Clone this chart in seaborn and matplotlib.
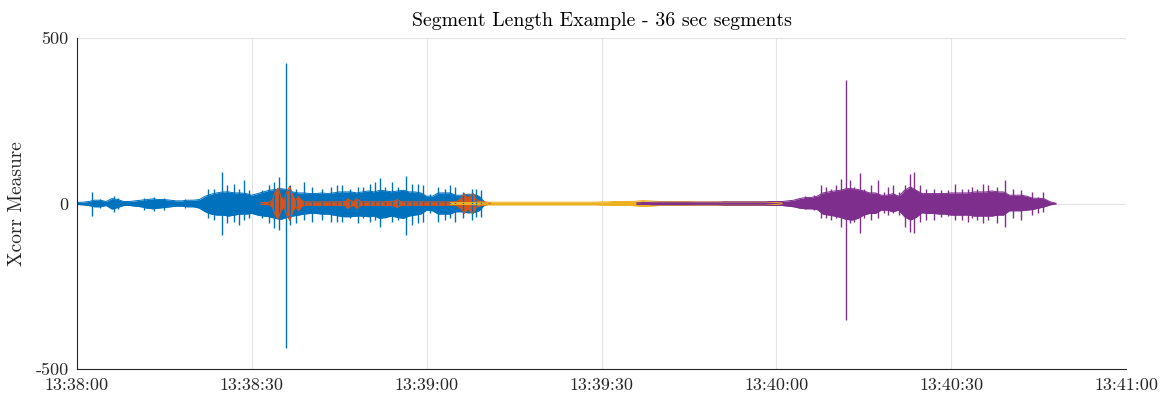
import numpy as np
import pandas as pd
import matplotlib
matplotlib.use("Agg")
import matplotlib.pyplot as plt
import seaborn as sns

# Estilo
sns.set_style("white")
plt.rcParams['font.family'] = 'serif'
plt.rcParams['font.serif'] = ['cmr10']
plt.rcParams['axes.unicode_minus'] = False
plt.rcParams['axes.formatter.use_mathtext'] = True

# MATLAB default colour order
cores = ['#0072BD', '#D95319', '#EDB120', '#7E2F8E']

# --- segment 1 (blue): core envelope every 1 s from 13:38:00 ---
azul_inicio, azul_passo = 0, 1.0
azul_sup = [3, 4, 6, 10, 10, 6, 15, 12, 6, 6,
            8, 10, 12, 14, 12, 12, 10, 8, 8, 10,
            10, 12, 22, 28, 32, 35, 35, 32, 32, 30,
            25, 30, 35, 40, 42, 45, 42, 35, 32, 32,
            30, 30, 32, 30, 32, 35, 35, 35, 32, 35,
            38, 35, 40, 38, 35, 38, 40, 35, 35, 32,
            22, 22, 32, 32, 32, 25, 25, 28, 28, 22, 3]
azul_inf = [-3, -4, -6, -10, -10, -6, -17, -12, -6, -6,
            -8, -10, -14, -16, -14, -12, -10, -8, -8, -10,
            -10, -14, -25, -32, -35, -35, -38, -35, -32, -32,
            -30, -35, -38, -40, -45, -48, -42, -38, -35, -32,
            -30, -30, -32, -32, -35, -38, -40, -40, -38, -38,
            -40, -38, -45, -42, -38, -42, -45, -38, -35, -32,
            -20, -22, -32, -32, -32, -25, -25, -28, -28, -22, -3]
# single peaks sticking out of the core
azul_picos_t = [2.6, 4.0, 6.3, 7.0, 11.5, 13.2, 15.0, 18.5,
                22.4, 23.5, 24.9, 25.8, 26.9, 27.8, 28.6, 29.5, 30.6, 31.8,
                32.9, 33.8, 34.6, 35.85, 36.6, 37.5, 38.9, 40.4, 42.1, 43.5,
                44.6, 45.5, 46.8, 48.2, 49.1, 50.2, 51.1, 52.0, 52.8, 54.0,
                55.1, 56.5, 57.4, 58.5, 59.4, 60.6, 62.0, 63.1, 64.0, 64.8,
                66.2, 67.7, 68.5, 69.4]
azul_picos_sup = [35, 14, 22, 18, 16, 20, 18, 14,
                  45, 45, 95, 55, 60, 45, 70, 40, 25, 40,
                  55, 65, 80, 423, 55, 45, 65, 50, 45, 50,
                  55, 55, 45, 50, 50, 60, 65, 78, 50, 65,
                  50, 82, 60, 60, 55, 30, 50, 45, 55, 50,
                  35, 45, 45, 40]
azul_picos_inf = [-38, -15, -25, -16, -20, -22, -20, -15,
                  -45, -50, -95, -60, -55, -65, -50, -45, -30, -45,
                  -60, -75, -80, -438, -65, -60, -50, -55, -50, -55,
                  -55, -55, -45, -60, -45, -55, -50, -70, -45, -55,
                  -50, -95, -65, -60, -55, -30, -55, -50, -45, -55,
                  -45, -50, -40, -42]

# --- segment 2 (orange): symmetric amplitude every 0.5 s ---
laranja_inicio, laranja_passo = 31.5, 0.5
laranja_amp = [2, 3, 3, 4, 10, 35, 47, 20, 10, 35,
               52, 25, 8, 22, 10, 5, 5, 5, 5, 5,
               5, 5, 5, 5, 5, 5, 5, 5, 5, 6,
               15, 8, 6, 15, 8, 5, 5, 5, 5, 5,
               5, 5, 5, 6, 5, 5, 8, 12, 6, 5,
               5, 5, 5, 5, 5, 5, 5, 5, 5, 5,
               5, 5, 5, 5, 5, 5, 5, 6, 10, 18,
               30, 15, 25, 30, 12, 8, 6, 5, 3, 1]

# --- segment 3 (yellow): symmetric amplitude every 1 s ---
amarelo_inicio, amarelo_passo = 64, 1.0
amarelo_amp = [3, 3, 3, 3, 3, 4,
               4, 4, 4, 4, 4, 4, 4, 4, 4, 4,
               4, 4, 4, 4, 4, 4, 4, 4, 4, 4,
               5, 5, 6, 6, 6, 6, 7, 9, 8, 7,
               6, 6, 6, 6, 6, 6, 5, 5, 5, 5,
               5, 5, 5, 5, 5, 5, 5, 5, 5, 4, 3, 1]

# --- segment 4 (purple): core envelope every 1 s ---
roxo_inicio, roxo_passo = 96, 1.0
roxo_sup = [2, 3, 3, 4, 4, 4, 4, 4, 4, 4,
            4, 4, 4, 4, 4, 5, 5, 5, 5, 5,
            5, 5, 5, 6, 6, 6, 8,
            10, 15, 18, 18, 22,
            32, 35, 38, 40, 45, 45, 42, 38, 32, 32,
            25, 25, 30, 22, 40, 50, 40, 30, 30, 30,
            30, 30, 32, 32, 32, 32, 35, 35, 35, 38,
            35, 35, 25, 25, 25, 22, 16, 16, 14, 5, 1]
roxo_inf = [-2, -3, -3, -4, -4, -4, -4, -4, -4, -4,
            -4, -4, -4, -4, -4, -5, -5, -5, -5, -5,
            -5, -5, -5, -6, -6, -6, -8,
            -10, -14, -16, -16, -18,
            -32, -35, -38, -42, -48, -50, -45, -35, -30, -30,
            -20, -20, -25, -20, -40, -50, -42, -28, -30, -30,
            -32, -32, -35, -35, -35, -35, -38, -38, -38, -38,
            -35, -35, -22, -22, -22, -20, -18, -14, -10, -4, -1]
roxo_picos_t = [123.5, 125.0, 126.5, 127.7, 128.6, 129.4, 130.3, 131.1, 131.9,
                132.6, 133.4, 134.3, 135.1, 136.3, 137.5, 138.5, 139.1, 140.0,
                141.1, 142.0, 142.9, 143.7, 144.6, 145.7, 147.1, 148.3, 149.5,
                150.6, 151.8, 152.9, 153.5, 154.5, 155.5, 156.3, 157.8, 159.2,
                160.6, 162.0, 163.8, 164.9, 165.8]
roxo_picos_sup = [15, 22, 25, 55, 50, 45, 55, 75, 372,
                  70, 50, 93, 45, 55, 70, 35, 50, 55,
                  35, 55, 90, 95, 55, 45, 45, 40, 40,
                  60, 45, 45, 50, 45, 60, 55, 50, 70,
                  45, 40, 35, 20, 35]
roxo_picos_inf = [-12, -18, -20, -45, -45, -50, -45, -70, -353,
                  -60, -55, -90, -45, -50, -45, -30, -35, -28,
                  -35, -70, -85, -90, -55, -50, -50, -40, -38,
                  -50, -50, -55, -45, -50, -60, -50, -60, -70,
                  -45, -50, -35, -30, -25]

# axis ticks
x_ticks = [0, 30, 60, 90, 120, 150, 180]
x_rotulos = ['13:38:00', '13:38:30', '13:39:00', '13:39:30', '13:40:00', '13:40:30', '13:41:00']
y_ticks = [-500, 0, 500]


def desenhar_segmento(ax, inicio, passo, sup, inf, cor, picos=None):
    t = inicio + passo * np.arange(len(sup))
    df = pd.DataFrame({'t': np.concatenate([t, t]),
                       'v': np.concatenate([sup, inf]),
                       'lado': ['sup'] * len(t) + ['inf'] * len(t)})
    ax.fill_between(t, inf, sup, color=cor, lw=0)
    sns.lineplot(data=df, x='t', y='v', units='lado', estimator=None,
                 color=cor, lw=0.7, ax=ax, legend=False)
    if picos is not None:
        ax.vlines(picos[0], picos[2], picos[1], color=cor, lw=1.0)


fig = plt.figure(figsize=(11.62, 3.98), dpi=100)
ax = fig.add_axes([77 / 1162, 1 - 369 / 398, (1126 - 77) / 1162, (369 - 38) / 398])

desenhar_segmento(ax, azul_inicio, azul_passo, azul_sup, azul_inf, cores[0],
                  (azul_picos_t, azul_picos_sup, azul_picos_inf))
desenhar_segmento(ax, laranja_inicio, laranja_passo, laranja_amp,
                  [-a for a in laranja_amp], cores[1])
desenhar_segmento(ax, amarelo_inicio, amarelo_passo, amarelo_amp,
                  [-a for a in amarelo_amp], cores[2])
desenhar_segmento(ax, roxo_inicio, roxo_passo, roxo_sup, roxo_inf, cores[3],
                  (roxo_picos_t, roxo_picos_sup, roxo_picos_inf))

ax.set_xlim(0, 180)
ax.set_ylim(-500, 500)
ax.set_xticks(x_ticks)
ax.set_xticklabels(x_rotulos)
ax.set_yticks(y_ticks)
ax.set_yticklabels([str(v) for v in y_ticks])
ax.set_xlabel('')
ax.set_ylabel('Xcorr Measure', fontsize=14, color='#262626', labelpad=7)
ax.set_title('Segment Length Example - 36 sec segments', fontsize=14.3, color='#000000', pad=9)

ax.grid(True, color='#e3e3e3', lw=0.8)
ax.set_axisbelow(True)
for lado in ['top', 'right']:
    ax.spines[lado].set_visible(False)
for lado in ['left', 'bottom']:
    ax.spines[lado].set_color('#262626')
    ax.spines[lado].set_linewidth(0.8)
ax.tick_params(direction='in', length=7, width=0.8, colors='#262626',
               labelsize=13, labelcolor='#262626')
ax.tick_params(axis='x', pad=6)
ax.tick_params(axis='y', pad=6)

fig.savefig('out.png', dpi=100)
